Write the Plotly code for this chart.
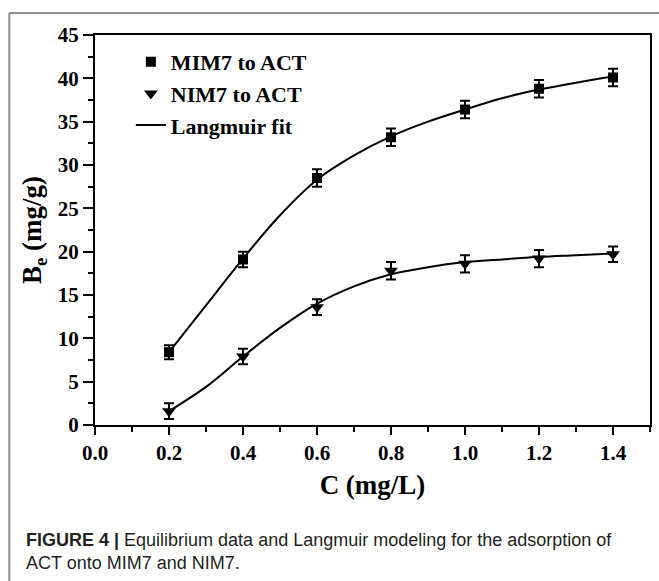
import plotly.graph_objects as go

# ---- data ----
conc = [0.2, 0.4, 0.6, 0.8, 1.0, 1.2, 1.4]
mim7 = [8.4, 19.1, 28.5, 33.2, 36.4, 38.8, 40.1]
mim7_err = [0.8, 0.9, 1.0, 1.0, 1.0, 1.0, 1.0]
nim7 = [1.6, 7.9, 13.6, 17.8, 18.6, 19.2, 19.7]
nim7_err = [0.9, 0.9, 0.9, 1.0, 1.0, 1.0, 0.9]

fit_x = [0.2, 0.3, 0.4, 0.5, 0.6, 0.7, 0.8, 0.9, 1.0, 1.1, 1.2, 1.3, 1.4]
fit_mim7 = [8.4, 13.8, 19.2, 24.2, 28.3, 31.1, 33.3, 35.0, 36.4, 37.7, 38.7, 39.5, 40.2]
fit_nim7 = [1.6, 4.4, 7.9, 11.2, 14.0, 16.0, 17.4, 18.2, 18.8, 19.1, 19.4, 19.6, 19.8]

x_ticks = [0.0, 0.2, 0.4, 0.6, 0.8, 1.0, 1.2, 1.4]
x_labels = ["0.0", "0.2", "0.4", "0.6", "0.8", "1.0", "1.2", "1.4"]
y_ticks = [0, 5, 10, 15, 20, 25, 30, 35, 40, 45]

names = ["MIM7 to ACT", "NIM7 to ACT", "Langmuir fit"]
caption = ("<b>FIGURE 4 |</b> Equilibrium data and Langmuir modeling for the adsorption of"
           "<br>ACT onto MIM7 and NIM7.")

W, H = 659, 581
L, R, T, B = 95, 7, 35, 156
pw, ph = W - L - R, H - T - B


def px(xp):
    return (xp - L) / pw


def py(yp):
    return (H - B - yp) / ph


serif = "Liberation Serif, Times New Roman, serif"

fig = go.Figure()

# fits
fig.add_trace(go.Scatter(x=fit_x, y=fit_mim7, mode="lines",
                         line=dict(color="black", width=2, shape="spline", smoothing=1.0),
                         showlegend=False, hoverinfo="skip"))
fig.add_trace(go.Scatter(x=fit_x, y=fit_nim7, mode="lines",
                         line=dict(color="black", width=2, shape="spline", smoothing=1.0),
                         showlegend=False, hoverinfo="skip"))

# data with error bars
fig.add_trace(go.Scatter(x=conc, y=mim7, mode="markers",
                         marker=dict(symbol="square", size=10, color="black"),
                         error_y=dict(type="data", array=mim7_err, color="black", thickness=2, width=5),
                         showlegend=False))
fig.add_trace(go.Scatter(x=conc, y=nim7, mode="markers",
                         marker=dict(symbol="triangle-down", size=12, color="black"),
                         error_y=dict(type="data", array=nim7_err, color="black", thickness=2, width=5),
                         showlegend=False))

# legend entries
fig.add_trace(go.Scatter(x=[None], y=[None], mode="markers", name=names[0],
                         marker=dict(symbol="square", size=10, color="black")))
fig.add_trace(go.Scatter(x=[None], y=[None], mode="markers", name=names[1],
                         marker=dict(symbol="triangle-down", size=12, color="black")))
fig.add_trace(go.Scatter(x=[None], y=[None], mode="lines", name=names[2],
                         line=dict(color="black", width=2)))

axis_common = dict(
    showline=True, linecolor="black", linewidth=2, mirror=True,
    showgrid=False, zeroline=False, ticks="outside", tickcolor="black", tickwidth=2,
    tickfont=dict(family=serif, size=21, color="black", weight="bold"),
)

fig.update_xaxes(
    range=[0, 1.5], tickvals=x_ticks, ticktext=x_labels, ticklen=8,
    minor=dict(dtick=0.1, tick0=0, ticks="outside", ticklen=5, tickwidth=2, tickcolor="black"),
    title=dict(text="C (mg/L)", font=dict(family=serif, size=27, color="black", weight="bold"), standoff=11),
    **axis_common,
)
fig.update_yaxes(
    range=[0, 45], tickvals=y_ticks, ticklen=10,
    minor=dict(dtick=2.5, tick0=0, ticks="outside", ticklen=5, tickwidth=2, tickcolor="black"),
    title=dict(text="B<sub>e</sub> (mg/g)", font=dict(family=serif, size=27, color="black", weight="bold"),
               standoff=8),
    **axis_common,
)

frame = dict(type="line", xref="paper", yref="paper", line=dict(color="#8c8c8c", width=2))
fig.add_shape(x0=px(9), x1=px(9), y0=py(13), y1=py(H + 2), **frame)
fig.add_shape(x0=px(9), x1=px(W + 2), y0=py(13), y1=py(13), **frame)

fig.add_annotation(text=caption, xref="paper", yref="paper", x=px(24), y=py(551),
                   xanchor="left", yanchor="middle", align="left", showarrow=False,
                   font=dict(family="Liberation Sans, Arial, sans-serif", size=18, color="#231f20"))

fig.update_layout(
    width=W, height=H,
    margin=dict(l=L, r=R, t=T, b=B),
    paper_bgcolor="white", plot_bgcolor="white",
    showlegend=True,
    legend=dict(x=px(131), y=py(41), xanchor="left", yanchor="top",
                bgcolor="rgba(0,0,0,0)", borderwidth=0, traceorder="normal",
                font=dict(family=serif, size=22, color="black", weight="bold"),
                tracegroupgap=0),
)

fig.write_html("out.html")
